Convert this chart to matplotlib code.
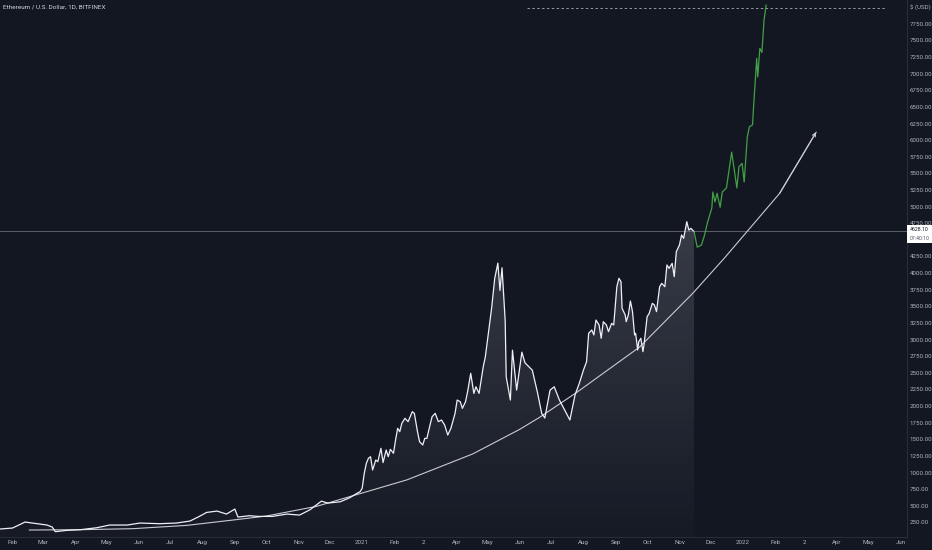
import matplotlib
matplotlib.use("Agg")
import matplotlib.pyplot as plt
import matplotlib.dates as mdates
import numpy as np
import pandas as pd
from matplotlib.patches import Polygon, Rectangle

# ---------------- data ----------------
price_dates = [
    "2020-01-20", "2020-02-01", "2020-02-13", "2020-02-20", "2020-03-05", "2020-03-10",
    "2020-03-13", "2020-03-24", "2020-04-06", "2020-04-22", "2020-05-04", "2020-05-21",
    "2020-06-02", "2020-06-21", "2020-07-07", "2020-07-20", "2020-07-29", "2020-08-05",
    "2020-08-15", "2020-08-24", "2020-09-01", "2020-09-04", "2020-09-15", "2020-09-23",
    "2020-10-07", "2020-10-21", "2020-11-02", "2020-11-12", "2020-11-23", "2020-11-29",
    "2020-12-11", "2020-12-20", "2020-12-27", "2020-12-30",
    "2021-01-01", "2021-01-03", "2021-01-05", "2021-01-07", "2021-01-09", "2021-01-11",
    "2021-01-14", "2021-01-16", "2021-01-19", "2021-01-21", "2021-01-24", "2021-01-26",
    "2021-01-28", "2021-01-31", "2021-02-02", "2021-02-04", "2021-02-06", "2021-02-08",
    "2021-02-11", "2021-02-14", "2021-02-18", "2021-02-20", "2021-02-23", "2021-02-25",
    "2021-02-28", "2021-03-02", "2021-03-04", "2021-03-07", "2021-03-09", "2021-03-12",
    "2021-03-15", "2021-03-18", "2021-03-21", "2021-03-24", "2021-03-27", "2021-03-31",
    "2021-04-02", "2021-04-05", "2021-04-07", "2021-04-10", "2021-04-12", "2021-04-15",
    "2021-04-18", "2021-04-20", "2021-04-23", "2021-04-27", "2021-04-29", "2021-05-05",
    "2021-05-08", "2021-05-11", "2021-05-13", "2021-05-15", "2021-05-18", "2021-05-19",
    "2021-05-23", "2021-05-25", "2021-05-29", "2021-06-03", "2021-06-06", "2021-06-11",
    "2021-06-13", "2021-06-18", "2021-06-22", "2021-06-25", "2021-06-30", "2021-07-04",
    "2021-07-09", "2021-07-14", "2021-07-19", "2021-07-24", "2021-07-28", "2021-08-01",
    "2021-08-04", "2021-08-06", "2021-08-09", "2021-08-11", "2021-08-13", "2021-08-16",
    "2021-08-18", "2021-08-20", "2021-08-23", "2021-08-25", "2021-08-28", "2021-08-30",
    "2021-09-02", "2021-09-04", "2021-09-06", "2021-09-07", "2021-09-10", "2021-09-11",
    "2021-09-13", "2021-09-15", "2021-09-17", "2021-09-19", "2021-09-20", "2021-09-22",
    "2021-09-23", "2021-09-25", "2021-09-27", "2021-09-28", "2021-10-01", "2021-10-03",
    "2021-10-06", "2021-10-08", "2021-10-10", "2021-10-13", "2021-10-15", "2021-10-18",
    "2021-10-20", "2021-10-22", "2021-10-25", "2021-10-27", "2021-10-29", "2021-11-01",
    "2021-11-03", "2021-11-05", "2021-11-08", "2021-11-10", "2021-11-12", "2021-11-15",
]
price_values = [
    150, 165, 255, 240, 210, 180,
    110, 130, 140, 170, 210, 210,
    240, 230, 240, 270, 340, 400,
    420, 375, 450, 330, 350, 340,
    340, 375, 360, 440, 570, 540,
    560, 620, 687, 712,
    762, 988, 1139, 1214, 1238, 1038,
    1188, 1163, 1364, 1150, 1339, 1238,
    1349, 1289, 1489, 1665, 1614, 1740,
    1815, 1765, 1915, 1890, 1614, 1464,
    1414, 1514, 1514, 1715, 1840, 1890,
    1765, 1790, 1715, 1564, 1665, 1890,
    2090, 2065, 1965, 2065, 2215, 2492,
    2190, 2290, 2190, 2592, 2740, 3470,
    3920, 4150, 3740, 4080, 3290, 2440,
    2090, 2840, 2240, 2810, 2650, 2570,
    2540, 2200, 1890, 1820, 2240, 2290,
    2090, 1940, 1790, 2170, 2340, 2540,
    2667, 3094, 3144, 3069, 3294, 3219,
    3019, 3269, 3219, 3119, 3244, 3219,
    3795, 3921, 3870, 3470, 3370, 3269,
    3370, 3580, 3420, 3069, 3094, 2843,
    2968, 3019, 2818, 2918, 3344, 3394,
    3545, 3520, 3420, 3795, 3846, 3795,
    4122, 4071, 4147, 3946, 4322, 4422,
    4573, 4523, 4773, 4648, 4673, 4623,
]

proj_dates = [
    "2021-11-15", "2021-11-18", "2021-11-22", "2021-11-25", "2021-11-28", "2021-12-02",
    "2021-12-03", "2021-12-05", "2021-12-07", "2021-12-10", "2021-12-12", "2021-12-16",
    "2021-12-21", "2021-12-24", "2021-12-26", "2021-12-28", "2021-12-31", "2022-01-02",
    "2022-01-05", "2022-01-07", "2022-01-10", "2022-01-11", "2022-01-14", "2022-01-15",
    "2022-01-17", "2022-01-19", "2022-01-21", "2022-01-23",
]
proj_values = [
    4623, 4390, 4420, 4570, 4770, 4980,
    5220, 5070, 5200, 4990, 5220, 5280,
    5820, 5500, 5280, 5600, 5650, 5370,
    6050, 6200, 6230, 6500, 7230, 6950,
    7380, 7320, 7800, 8030,
]

curve_dates = [
    "2020-02-17", "2020-04-06", "2020-05-26", "2020-07-17", "2020-08-30", "2020-10-01",
    "2020-11-18", "2021-01-05", "2021-02-13", "2021-04-17", "2021-06-01", "2021-06-20",
    "2021-07-26", "2021-09-24", "2021-11-14", "2021-12-14", "2022-02-05", "2022-03-12",
]
curve_values = [
    135, 140, 155, 205, 285, 345,
    490, 710, 890, 1280, 1650, 1830,
    2210, 2890, 3700, 4225, 5200, 6120,
]

last_price = 4628.10
last_price_label = "4628.10"
countdown_label = "07:40:10"
target_level = 7990
target_start, target_end = "2021-06-08", "2022-05-17"

# 4500 is hidden behind the price tag in the reference
y_ticks = [v for v in range(250, 8000, 250) if v != 4500]
month_ticks = [
    "2020-02-01", "2020-03-01", "2020-04-01", "2020-05-01", "2020-06-01", "2020-07-01",
    "2020-08-01", "2020-09-01", "2020-10-01", "2020-11-01", "2020-12-01", "2021-01-01",
    "2021-02-01", "2021-03-01", "2021-04-01", "2021-05-01", "2021-06-01", "2021-07-01",
    "2021-08-01", "2021-09-01", "2021-10-01", "2021-11-01", "2021-12-01", "2022-01-01",
    "2022-02-01", "2022-03-01", "2022-04-01", "2022-05-01", "2022-06-01",
]
month_labels = [
    "Feb", "Mar", "Apr", "May", "Jun", "Jul",
    "Aug", "Sep", "Oct", "Nov", "Dec", "2021",
    "Feb", "2", "Apr", "May", "Jun", "Jul",
    "Aug", "Sep", "Oct", "Nov", "Dec", "2022",
    "Feb", "2", "Apr", "May", "Jun",
]
title = "Ethereum / U.S. Dollar, 1D, BITFINEX"
axis_title = "$ (USD)"

# ---------------- style ----------------
BG = "#131722"
TXT = "#b2b5be"
NARROW = ["Liberation Sans Narrow", "Roboto", "DejaVu Sans"]
plt.rcParams["font.family"] = NARROW

fig = plt.figure(figsize=(9.32, 5.5), dpi=100)
fig.patch.set_facecolor(BG)
ax = fig.add_axes([0, 13 / 550, 907 / 932, 537 / 550])
ax.set_facecolor(BG)

px = mdates.date2num(pd.to_datetime(price_dates))
pv = np.array(price_values, float)
gx = mdates.date2num(pd.to_datetime(proj_dates))
cx = mdates.date2num(pd.to_datetime(curve_dates))

xlo = mdates.date2num(pd.Timestamp("2020-01-20"))
xhi = mdates.date2num(pd.Timestamp("2022-06-07"))
ylo, yhi = 30, 8108

# gradient fill under the price
verts = [(px[0], ylo)] + list(zip(px, pv)) + [(px[-1], ylo)]
poly = Polygon(verts, closed=True, facecolor="none", edgecolor="none")
ax.add_patch(poly)
ny = 256
vals = np.linspace(ylo, pv.max(), ny)
rgba = np.ones((ny, 1, 4))
rgba[:, 0, :3] = [0.85, 0.87, 0.92]
rgba[:, 0, 3] = 0.015 + 0.17 * (vals / pv.max())
im = ax.imshow(rgba, extent=[px[0], px[-1], ylo, pv.max()], origin="lower",
               aspect="auto", zorder=1, interpolation="bilinear")
im.set_clip_path(poly)

# current price line
ax.axhline(last_price, color="#5d606b", lw=0.7, zorder=2)
# dashed target
ax.plot(mdates.date2num(pd.to_datetime([target_start, target_end])),
        [target_level, target_level], color="#9598a1", lw=0.7,
        ls=(0, (2.5, 2.5)), zorder=2)

# curve
ax.plot(cx, curve_values, color="#c9cbd1", lw=0.8, zorder=3, solid_capstyle="round")
ax.annotate("", xy=(cx[-1], curve_values[-1]), xytext=(cx[-2], curve_values[-2]),
            arrowprops=dict(arrowstyle="->", color="#c9cbd1", lw=0.8,
                            mutation_scale=6, shrinkA=0, shrinkB=0), zorder=3)

# price + projection
ax.plot(px, pv, color="#eef0f4", lw=0.9, zorder=4)
ax.plot(gx, proj_values, color="#43a047", lw=0.9, zorder=4)

ax.set_xlim(xlo, xhi)
ax.set_ylim(ylo, yhi)

ax.yaxis.tick_right()
ax.set_yticks(y_ticks)
ax.set_yticklabels([f"{v:.2f}" for v in y_ticks])
ax.set_xticks(mdates.date2num(pd.to_datetime(month_ticks)))
ax.set_xticklabels(month_labels)
ax.tick_params(axis="both", length=0, labelsize=4.4, colors=TXT)
ax.tick_params(axis="y", pad=2.0)
ax.tick_params(axis="x", pad=2.0)
for s in ["top", "left"]:
    ax.spines[s].set_visible(False)
for s in ["bottom", "right"]:
    ax.spines[s].set_color("#2a2e39")
    ax.spines[s].set_linewidth(0.7)
ax.grid(False)

fig.text(3 / 932, 1 - 7 / 550, title, fontsize=4.6, color="#d1d4dc", va="center", ha="left")
fig.text(910 / 932, 1 - 7 / 550, axis_title, fontsize=4.4, color=TXT, va="center", ha="left")

# price tag
ytag = 13 / 550 + (last_price - ylo) / (yhi - ylo) * 537 / 550
fig.patches.append(Rectangle((907 / 932, ytag - 12 / 550), 25 / 932, 18 / 550,
                             transform=fig.transFigure, facecolor="white",
                             edgecolor="none", zorder=5))
fig.text(910 / 932, ytag + 2.0 / 550, last_price_label, fontsize=3.7, color="#131722",
         va="center", ha="left", zorder=6)
fig.text(910 / 932, ytag - 7.0 / 550, countdown_label, fontsize=3.7, color="#50535e",
         va="center", ha="left", zorder=6)

fig.savefig("out.png", dpi=100, facecolor=BG)
